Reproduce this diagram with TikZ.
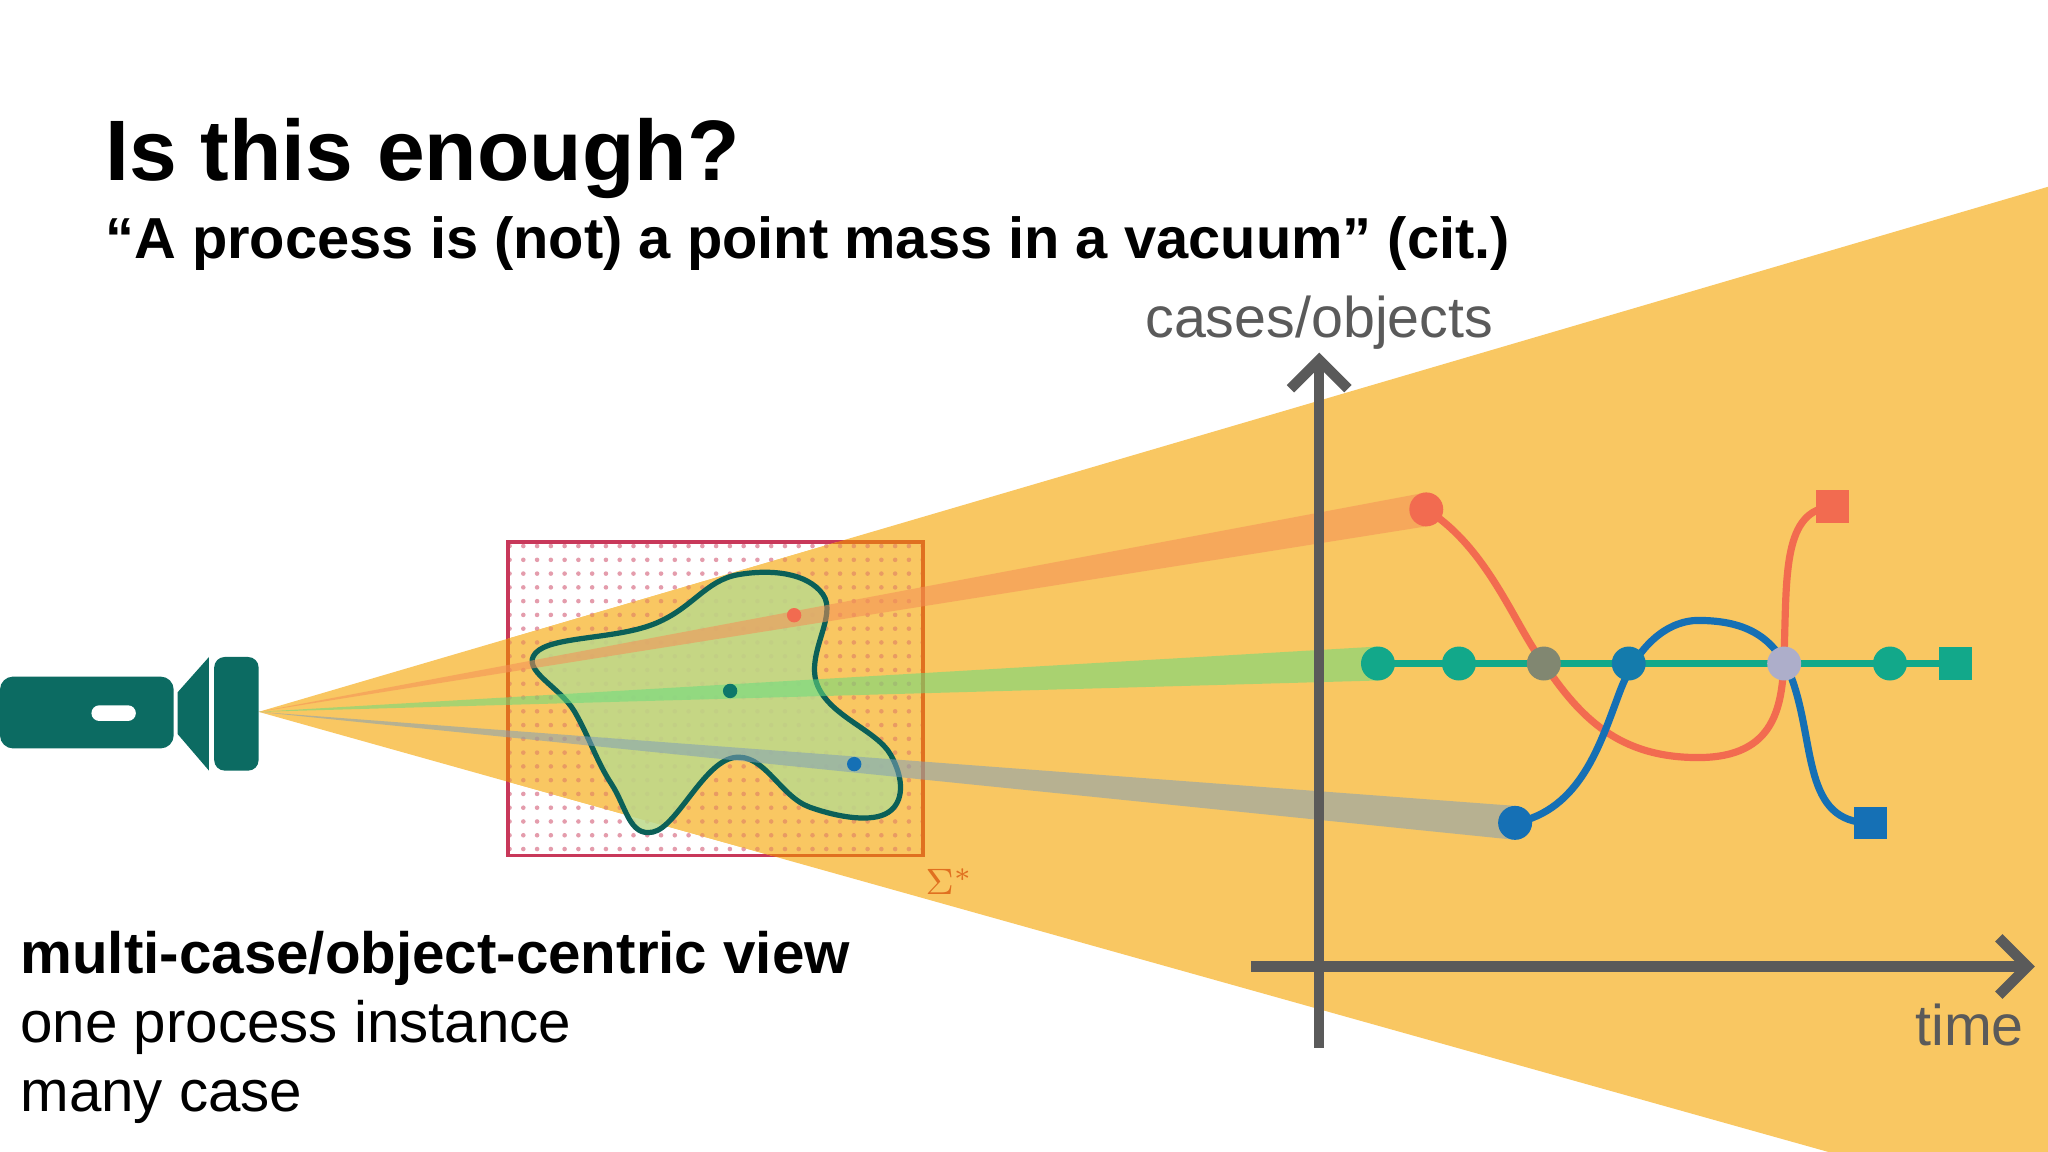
\documentclass[tikz,border=0pt]{standalone}
\usepackage{fontspec}
\setmainfont{Liberation Sans}
\usetikzlibrary{patterns,arrows.meta}
\definecolor{beam}{HTML}{F9C762}
\definecolor{teal}{HTML}{0C6B62}
\definecolor{redc}{HTML}{F26B50}
\definecolor{bluec}{HTML}{1570B5}
\definecolor{greenc}{HTML}{12A88A}
\definecolor{axis}{HTML}{5A5A5A}
\definecolor{frame}{HTML}{C8385A}
\definecolor{oframe}{HTML}{E07020}
\definecolor{blobc}{HTML}{BCD98A}
\tikzset{
 ax/.style={draw=axis,line width=0.8mm,-{Straight Barb[length=2.2mm,width=4.4mm]}},
 lbl/.style={text=axis,font=\fontsize{12.5}{14}\selectfont,inner sep=0},
 ray/.style={opacity=0.55},
 dotn/.style={circle,inner sep=0,minimum size=2.6mm},
 sq/.style={rectangle,inner sep=0,minimum size=2.5mm},
 curve/.style={line width=0.55mm}
}
\begin{document}
\begin{tikzpicture}[x=0.1mm,y=-0.1mm]
\useasboundingbox (0,0) rectangle (1568,882);
\fill[white] (0,0) rectangle (1568,882);
% beam
\fill[beam] (198,545) -- (1568,143) -- (1568,882) -- (1400,882) -- cycle;
% box
\fill[pattern=dots,pattern color=frame!50] (389,415) rectangle (707,655);
\draw[frame,line width=0.3mm] (389,415) rectangle (707,655);
\begin{scope}
\clip (198,545) -- (1568,143) -- (1568,882) -- (1400,882) -- cycle;
\fill[beam] (389,415) rectangle (707,655);
\fill[pattern=dots,pattern color=oframe!70] (389,415) rectangle (707,655);
\draw[oframe,line width=0.3mm] (389,415) rectangle (707,655);
\end{scope}
\node[text=oframe,font=\fontsize{8}{9}\selectfont] (sig) at (727,675) {$\Sigma^*$};
% blob
\fill[blobc,opacity=0.85] plot[smooth cycle,tension=0.7] coordinates{(410,500)(500,478)(565,440)(630,455)(626,525)(682,578)(680,622)(620,618)(562,580)(500,637)(468,600)(440,545)};
\draw[teal!90!black,line width=0.4mm] plot[smooth cycle,tension=0.7] coordinates{(410,500)(500,478)(565,440)(630,455)(626,525)(682,578)(680,622)(620,618)(562,580)(500,637)(468,600)(440,545)};
% rays
\fill[redc!60!beam,ray] (198,545) -- (1092,377) -- (1092,403) -- cycle;
\fill[green!60!teal!60!white,ray] (198,545) -- (1055,495) -- (1055,521) -- cycle;
\fill[bluec!50!gray!70!white,ray] (198,545) -- (1160,617) -- (1160,643) -- cycle;
\fill[redc] (608,471) circle (5.5);
\fill[teal!80!greenc] (559,529) circle (5.5);
\fill[bluec] (654,585) circle (5.5);
% flashlight
\fill[teal,rounded corners=1mm] (0,518) rectangle (133,573);
\fill[white,rounded corners=0.6mm] (70,540) rectangle (104,552);
\fill[teal] (136,530) -- (160,503) -- (160,590) -- (136,562) -- cycle;
\fill[teal,rounded corners=0.8mm] (164,503) rectangle (198,590);
% axes
\coordinate (ybot) at (1010,802); \coordinate (ytop) at (1010,270);
\coordinate (xl) at (958,740); \coordinate (xr) at (1558,740);
\draw[ax] (ybot) -- (ytop);
\draw[ax] (xl) -- (xr);
\node[lbl] (yl) at (1010,247) {cases/objects};
\node[lbl] (xlb) at (1508,785) {time};
% curves
\draw[redc,curve] (1092,390) .. controls (1140,420) and (1160,480) .. (1182,508) .. controls (1210,550) and (1240,580) .. (1300,580) .. controls (1360,580) and (1365,540) .. (1366,500) .. controls (1368,440) and (1365,390) .. (1403,388);
\draw[greenc,curve] (1055,508) -- (1497,508);
\draw[bluec,curve] (1160,630) .. controls (1210,620) and (1225,570) .. (1240,530) .. controls (1255,490) and (1280,475) .. (1300,475) .. controls (1340,475) and (1360,490) .. (1372,520) .. controls (1390,570) and (1380,630) .. (1432,630);
\node[dotn,fill=redc] (r1) at (1092,390) {};
\node[sq,fill=redc] (r2) at (1403,388) {};
\node[dotn,fill=bluec] (b1) at (1160,630) {};
\node[sq,fill=bluec] (b2) at (1432,630) {};
\foreach \x/\n in {1055/g1,1117/g2,1447/g3} \node[dotn,fill=greenc] (\n) at (\x,508) {};
\node[sq,fill=greenc] (g4) at (1497,508) {};
\node[dotn,fill=redc!50!greenc!80!gray] (m1) at (1182,508) {};
\node[dotn,fill=bluec!80!greenc] (m2) at (1247,508) {};
\node[dotn,fill=redc!60!violet!40!bluec!50!white] (m3) at (1366,508) {};
% texts
\node[anchor=base west,inner sep=0,font=\bfseries\fontsize{18.7}{22}\selectfont] (t1) at (80,138) {Is this enough?};
\node[anchor=base west,inner sep=0,font=\bfseries\fontsize{12.6}{14}\selectfont] (t2) at (80,198) {“A process is (not) a point mass in a vacuum” (cit.)};
\node[anchor=base west,inner sep=0,font=\bfseries\fontsize{12.7}{14}\selectfont] (b1t) at (15,745) {multi-case/object-centric view};
\node[anchor=base west,inner sep=0,font=\fontsize{12.7}{14}\selectfont] (b2t) at (15,798) {one process instance};
\node[anchor=base west,inner sep=0,font=\fontsize{12.7}{14}\selectfont] (b3t) at (15,851) {many case};
\end{tikzpicture}
\end{document}
